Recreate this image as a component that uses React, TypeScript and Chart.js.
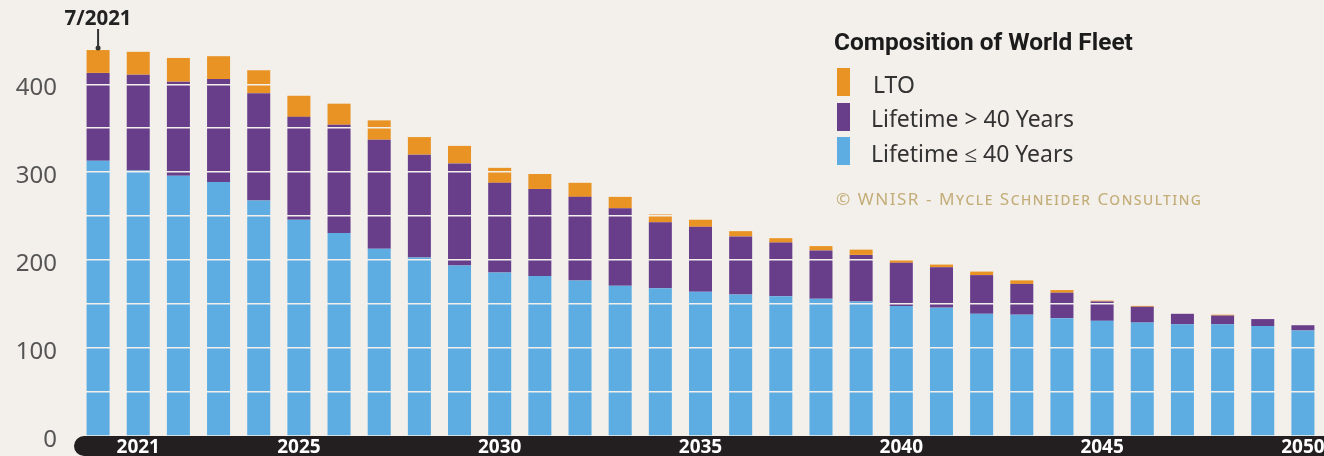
import { useEffect, useRef } from "react";
import { Chart, registerables } from "chart.js";

Chart.register(...registerables);

// ---- data ----
const categories = [
  "7/2021", "2021", "2022", "2023", "2024", "2025", "2026", "2027", "2028", "2029", "2030",
  "2031", "2032", "2033", "2034", "2035", "2036", "2037", "2038", "2039", "2040",
  "2041", "2042", "2043", "2044", "2045", "2046", "2047", "2048", "2049", "2050",
];
const shownYearLabels = ["2021", "2025", "2030", "2035", "2040", "2045", "2050"];
const yTickLabels = [0, 100, 200, 300, 400];

const lifetimeUpTo40 = [
  313, 302, 296, 289, 268, 246, 231, 213, 203, 194, 186,
  182, 177, 171, 168, 164, 161, 159, 156, 153, 148,
  146, 139, 138, 134, 131, 129, 127, 127, 125, 120,
];
const lifetimeOver40 = [
  100, 109, 107, 117, 122, 117, 123, 124, 117, 116, 102,
  99, 95, 88, 75, 74, 66, 61, 55, 53, 49,
  46, 44, 35, 29, 22, 18, 12, 10, 8, 6,
];
const lto = [
  26, 26, 27, 26, 26, 24, 24, 22, 20, 20, 17,
  17, 16, 13, 9, 8, 6, 5, 5, 6, 4,
  3, 4, 4, 3, 1, 1, 0, 1, 0, 0,
];

const legendTitle = "Composition of World Fleet";
const legendLabels = ["LTO", "Lifetime > 40 Years", "Lifetime ≤ 40 Years"];
const copyrightText = "© WNISR - Mycle Schneider Consulting";
const annotationLabel = "7/2021";

// ---- styles ----
const BG = "#f3f0eb";
const BLUE = "#5dace2";
const PURPLE = "#683e8b";
const ORANGE = "#e99325";
const BAND = "#231f20";

function fitFont(ctx: CanvasRenderingContext2D, text: string, weight: string, family: string, baseSize: number, targetWidth: number) {
  ctx.font = `${weight} ${baseSize}px ${family}`;
  const w = ctx.measureText(text).width;
  const size = (baseSize * targetWidth) / w;
  return `${weight} ${size}px ${family}`;
}

const decorPlugin = {
  id: "decor",
  beforeDraw(chart: any) {
    const { ctx, chartArea, width, height } = chart;
    ctx.save();
    ctx.fillStyle = BG;
    ctx.fillRect(0, 0, width, height);
    ctx.fillStyle = BAND;
    const x0 = chartArea.left - 4;
    ctx.beginPath();
    ctx.roundRect(x0, chartArea.bottom, width + 20 - x0, height - chartArea.bottom, [10, 0, 0, 10]);
    ctx.fill();
    ctx.restore();
  },
  afterDraw(chart: any) {
    const { ctx } = chart;
    const xs = chart.scales.x;
    const ys = chart.scales.y;
    ctx.save();

    // annotation 7/2021
    const bx = xs.getPixelForValue(0);
    const topVal = lifetimeUpTo40[0] + lifetimeOver40[0] + lto[0];
    const by = ys.getPixelForValue(topVal);
    ctx.fillStyle = "#222";
    ctx.textAlign = "center";
    ctx.textBaseline = "middle";
    ctx.font = fitFont(ctx, annotationLabel, "bold", '"Open Sans"', 19, 67);
    ctx.fillText(annotationLabel, bx, 19);
    ctx.strokeStyle = "#333";
    ctx.lineWidth = 2;
    ctx.beginPath();
    ctx.moveTo(bx, 29);
    ctx.lineTo(bx, by - 2);
    ctx.stroke();
    ctx.fillStyle = "#333";
    ctx.beginPath();
    ctx.arc(bx, by - 2, 2.5, 0, Math.PI * 2);
    ctx.fill();

    // legend
    ctx.textAlign = "left";
    ctx.textBaseline = "middle";
    ctx.fillStyle = "#1b1b1b";
    ctx.font = fitFont(ctx, legendTitle, "bold", "Roboto", 22, 299);
    ctx.fillText(legendTitle, 834, 44);

    const swatchColors = [ORANGE, PURPLE, BLUE];
    const swatchY = [68, 103, 137];
    const textY = [86, 120, 155];
    const textX = [873, 871, 871];
    ctx.font = fitFont(ctx, legendLabels[1], "normal", '"Noto Sans"', 21, 203);
    for (let i = 0; i < 3; i++) {
      ctx.fillStyle = swatchColors[i];
      ctx.fillRect(837, swatchY[i], 13, 28);
      ctx.fillStyle = "#333";
      ctx.fillText(legendLabels[i], textX[i], textY[i]);
    }

    // copyright in small caps
    ctx.fillStyle = "#c3ad78";
    (ctx as any).fontVariantCaps = "small-caps";
    (ctx as any).letterSpacing = "1.5px";
    ctx.font = fitFont(ctx, copyrightText, "normal", '"Noto Sans"', 15, 372);
    (ctx as any).fontVariantCaps = "small-caps";
    ctx.fillText(copyrightText, 836, 200);
    ctx.restore();
  },
};

export default function App() {
  const ref = useRef<HTMLCanvasElement>(null);
  useEffect(() => {
    if (!ref.current) return;
    const chart = new Chart(ref.current, {
      type: "bar",
      data: {
        labels: categories,
        datasets: [
          { label: legendLabels[2], data: lifetimeUpTo40, backgroundColor: BLUE },
          { label: legendLabels[1], data: lifetimeOver40, backgroundColor: PURPLE },
          { label: legendLabels[0], data: lto, backgroundColor: ORANGE },
        ],
      },
      options: {
        animation: false,
        responsive: false,
        devicePixelRatio: 1,
        layout: { padding: { top: 14, right: 1, left: 0, bottom: 0 } },
        datasets: { bar: { barPercentage: 0.573, categoryPercentage: 1 } },
        plugins: { legend: { display: false }, tooltip: { enabled: false } },
        scales: {
          x: {
            stacked: true,
            offset: true,
            grid: { display: false },
            border: { display: false },
            afterFit: (s: any) => {
              s.height = 20;
              s.paddingLeft = 0;
              s.paddingRight = 0;
              s.paddingTop = 0;
              s.paddingBottom = 0;
            },
            ticks: {
              autoSkip: false,
              maxRotation: 0,
              padding: -8,
              color: "#ffffff",
              font: { family: '"Open Sans"', weight: "bold", size: 19 },
              callback: (_v: any, idx: number) =>
                shownYearLabels.includes(categories[idx]) ? categories[idx] : "",
            },
          },
          y: {
            stacked: true,
            min: 0,
            max: 480,
            border: { display: false },
            afterFit: (s: any) => {
              s.width = 78;
              s.paddingTop = 0;
              s.paddingBottom = 0;
              s.paddingLeft = 0;
              s.paddingRight = 0;
            },
            grid: {
              drawTicks: false,
              lineWidth: 1.6,
              z: 1,
              color: (c: any) => {
                const v = c.tick ? c.tick.value : 0;
                return v > 0 && v <= 450 && v % 50 === 0 ? BG : "rgba(0,0,0,0)";
              },
            },
            ticks: {
              stepSize: 50,
              padding: 21,
              labelOffset: 4,
              color: "#555",
              font: { family: '"Noto Sans"', size: 24 },
              callback: (v: any) => (yTickLabels.includes(Number(v)) ? String(v) : ""),
            },
          },
        },
      },
      plugins: [decorPlugin],
    });
    return () => chart.destroy();
  }, []);
  return (
    <div style={{ position: "fixed", left: 0, top: 0, width: 1324, height: 456, background: BG }}>
      <canvas ref={ref} width={1324} height={456} style={{ display: "block" }} />
    </div>
  );
}
